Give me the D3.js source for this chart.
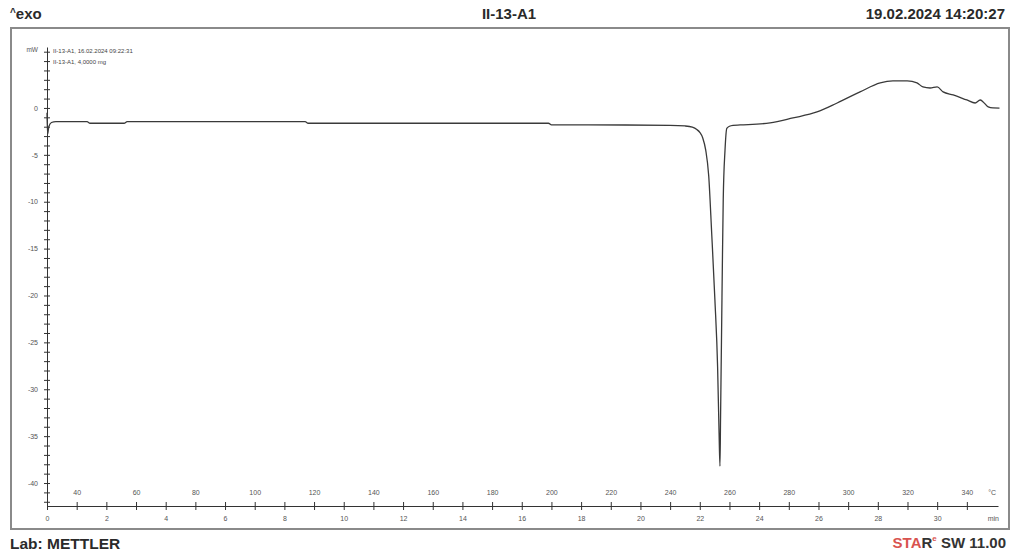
<!DOCTYPE html>
<html>
<head>
<meta charset="utf-8">
<script src="https://cdn.jsdelivr.net/npm/d3@7"></script>
<style>
  body { margin: 0; background: #fff; }
  svg text { font-family: "Liberation Sans", Arial, sans-serif; }
</style>
</head>
<body>
<div id="chart"></div>
<script>
// DSC curve II-13-A1
const timeMin = [0, 0.02, 0.06, 0.15, 0.3, 1.35, 1.45, 2.6, 2.7, 8.7, 8.8, 16.9, 17.0, 19.5, 21.0, 21.5,
  21.75, 21.9, 22.0, 22.1, 22.2, 22.3, 22.4, 22.51, 22.6, 22.65, 22.68, 22.7, 22.72, 22.74, 22.76,
  22.79, 22.85, 22.91, 23.0, 23.12, 23.36, 24.37, 25.14, 25.95, 26.63, 27.4, 28.08, 28.51, 28.99,
  29.32, 29.52, 29.76, 30.0, 30.2, 30.54, 31.0, 31.28, 31.45, 31.55, 31.72, 31.88, 32.1];
const heatFlow = [-0.5, -2.8, -2.0, -1.55, -1.46, -1.46, -1.63, -1.63, -1.46, -1.46, -1.63, -1.63, -1.81,
  -1.82, -1.85, -1.92, -2.05, -2.3, -2.6, -3.2, -4.5, -7.2, -13.3, -20.5, -27.6, -34.7, -38.2, -33.0,
  -27.6, -22.3, -16.9, -9.8, -4.5, -2.17, -1.95, -1.85, -1.81, -1.6, -1.07, -0.43, 0.53, 1.71, 2.67,
  2.88, 2.88, 2.67, 2.24, 2.13, 2.24, 1.71, 1.39, 0.85, 0.53, 0.85, 0.64, 0.11, 0.0, -0.02];

const yMajor = [0, -5, -10, -15, -20, -25, -30, -35, -40];
const timeTicks = [0, 2, 4, 6, 8, 10, 12, 14, 16, 18, 20, 22, 24, 26, 28, 30];
const tempTicks = [40, 60, 80, 100, 120, 140, 160, 180, 200, 220, 240, 260, 280, 300, 320, 340];
const legendLines = ["II-13-A1, 16.02.2024 09:22:31", "II-13-A1, 4,0000 mg"];

const W = 1015, H = 554;
const svg = d3.select("#chart").append("svg").attr("width", W).attr("height", H);

// scales
const x = d3.scaleLinear().domain([0, 32.05]).range([47, 998]);
const xT = d3.scaleLinear().domain([30, 30 + 10 * 32.05]).range([47, 998]); // 10 K/min from 30 °C
const y = d3.scaleLinear().domain([-42.45, 6.5]).range([506, 47]);

// frame
svg.append("rect")
  .attr("x", 11).attr("y", 28).attr("width", 998).attr("height", 501)
  .attr("fill", "none").attr("stroke", "#8a8a8a").attr("stroke-width", 2);

// header
const hdr = svg.append("g").attr("fill", "#2a2a2a").style("font-weight", "bold").style("font-size", "15px");
const exo = hdr.append("text").attr("x", 10).attr("y", 19);
exo.append("tspan").text("^").style("font-size", "10px").attr("dy", -3);
exo.append("tspan").text("exo").attr("dy", 3);
hdr.append("text").attr("x", 509).attr("y", 19).attr("text-anchor", "middle").text("II-13-A1");
hdr.append("text").attr("x", 1005).attr("y", 19).attr("text-anchor", "end").text("19.02.2024 14:20:27");

// footer
svg.append("text").attr("x", 10).attr("y", 549)
  .attr("fill", "#2a2a2a").style("font-weight", "bold").style("font-size", "15.5px")
  .text("Lab: METTLER");
const star = svg.append("text").attr("x", 1006).attr("y", 548).attr("text-anchor", "end")
  .style("font-weight", "bold").style("font-size", "15px");
star.append("tspan").text("STA").attr("fill", "#d9534f");
star.append("tspan").text("R").attr("fill", "#333");
star.append("tspan").text("e").attr("fill", "#d9534f").style("font-size", "8px").attr("dy", -7);
star.append("tspan").text(" SW 11.00").attr("fill", "#333").attr("dy", 7);

// y axis
const yAxis = d3.axisLeft(y)
  .tickValues(d3.range(-42, 7, 1))
  .tickSize(3)
  .tickSizeOuter(0)
  .tickPadding(6)
  .tickFormat(d => yMajor.includes(d) ? String(d) : "");
const gy = svg.append("g").attr("transform", "translate(47,0)").call(yAxis);
gy.select(".domain").attr("stroke", "#333");
gy.selectAll(".tick line").attr("x1", 3).attr("stroke", "#333");
gy.selectAll(".tick text").attr("fill", "#555").style("font-size", "7px");
svg.append("text").attr("x", 38).attr("y", 52).attr("text-anchor", "end")
  .attr("fill", "#555").style("font-size", "6.5px").text("mW");

// legend text
svg.selectAll(".legend").data(legendLines).enter().append("text")
  .attr("class", "legend")
  .attr("x", 53).attr("y", (d, i) => 53 + i * 11)
  .attr("fill", "#444").style("font-size", "6px")
  .text(d => d);

// x axis (time below, temperature above)
const xAxis = d3.axisBottom(x).tickValues(timeTicks).tickSize(4).tickSizeOuter(0).tickPadding(6)
  .tickFormat(d => String(d));
const gx = svg.append("g").attr("transform", "translate(0,506)").call(xAxis);
gx.select(".domain").attr("stroke", "#333");
gx.selectAll(".tick line").attr("y1", -4).attr("stroke", "#333");
gx.selectAll(".tick text").attr("fill", "#555").style("font-size", "7px");

const tAxis = d3.axisTop(xT).tickValues(tempTicks).tickSize(4).tickSizeOuter(0).tickPadding(7)
  .tickFormat(d => String(d));
const gt = svg.append("g").attr("transform", "translate(0,506)").call(tAxis);
gt.select(".domain").remove();
gt.selectAll(".tick line").attr("y1", 4).attr("stroke", "#333");
gt.selectAll(".tick text").attr("fill", "#555").style("font-size", "7px");

svg.append("text").attr("x", 996).attr("y", 495).attr("text-anchor", "end")
  .attr("fill", "#555").style("font-size", "7px").text("°C");
svg.append("text").attr("x", 999).attr("y", 521).attr("text-anchor", "end")
  .attr("fill", "#555").style("font-size", "7px").text("min");

// curve
const pts = timeMin.map((t, i) => [t, heatFlow[i]]);
const line = d3.line().x(d => x(d[0])).y(d => y(d[1])).curve(d3.curveMonotoneX);
svg.append("path").datum(pts)
  .attr("d", line)
  .attr("fill", "none")
  .attr("stroke", "#3a3a3a")
  .attr("stroke-width", 1.3);
</script>
</body>
</html>
